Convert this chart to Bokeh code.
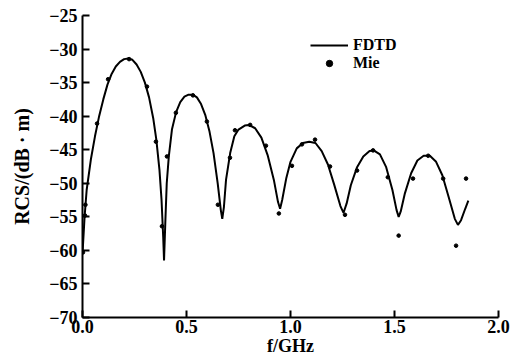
from bokeh.plotting import figure
from bokeh.models import FixedTicker, Legend, LegendItem, Range1d
from bokeh.embed import file_html
from bokeh.resources import INLINE

# FDTD curve (f in GHz, RCS in dB·m)
fdtd_f = [0.0, 0.01, 0.02, 0.04, 0.06, 0.08, 0.10, 0.12, 0.14, 0.16, 0.18, 0.20, 0.22, 0.24,
          0.26, 0.28, 0.30, 0.32, 0.34, 0.355, 0.37, 0.38, 0.388, 0.392,
          0.398, 0.405, 0.415, 0.43, 0.45, 0.47, 0.49, 0.51, 0.53, 0.55, 0.57, 0.59, 0.61,
          0.63, 0.65, 0.665, 0.672,
          0.68, 0.69, 0.71, 0.73, 0.75, 0.78, 0.80, 0.83, 0.86, 0.89, 0.92, 0.94, 0.95,
          0.96, 0.98, 1.00, 1.03, 1.06, 1.09, 1.12, 1.15, 1.18, 1.21, 1.24, 1.255,
          1.27, 1.29, 1.32, 1.35, 1.38, 1.40, 1.43, 1.46, 1.49, 1.51, 1.52,
          1.53, 1.55, 1.58, 1.61, 1.64, 1.67, 1.70, 1.73, 1.76, 1.79, 1.805, 1.82, 1.84, 1.855]
fdtd_rcs = [-60.5, -55.0, -51.0, -46.5, -43.0, -40.0, -37.5, -35.3, -33.7, -32.6, -31.9, -31.5, -31.4, -31.6,
            -32.3, -33.4, -35.0, -37.2, -40.3, -43.5, -48.0, -52.5, -58.0, -61.5,
            -56.0, -50.0, -46.0, -42.0, -39.4, -37.9, -37.1, -36.8, -36.8, -37.2, -38.2, -39.8, -42.2,
            -45.5, -50.0, -54.0, -55.3,
            -53.5, -49.5, -45.5, -43.0, -42.0, -41.4, -41.3, -41.8, -43.2, -45.8, -49.5, -52.8, -53.8,
            -52.5, -49.2, -46.8, -44.8, -44.0, -43.8, -44.0, -45.2, -47.2, -50.2, -53.4, -54.4,
            -53.0, -50.3, -47.6, -46.0, -45.2, -45.1, -45.7, -47.6, -51.0, -54.0, -55.0,
            -54.2, -51.5, -48.5, -46.6, -45.9, -45.9, -46.8, -48.8, -52.0, -55.3, -56.2, -55.5, -53.8, -52.6]

# Mie series points
mie_f = [0.002, 0.012, 0.014, 0.07, 0.123, 0.224, 0.31, 0.353, 0.382, 0.406, 0.449, 0.531,
         0.598, 0.651, 0.709, 0.733, 0.806, 0.882, 0.944, 1.007, 1.055, 1.118, 1.19, 1.262,
         1.32, 1.397, 1.468, 1.52, 1.589, 1.662, 1.734, 1.796, 1.844]
mie_rcs = [-60.3, -54.8, -53.2, -41.1, -34.5, -31.5, -35.6, -43.8, -56.4, -46.0, -39.5, -36.9,
           -40.8, -53.2, -46.2, -42.1, -41.3, -44.4, -54.5, -47.4, -44.2, -43.5, -47.5, -54.7,
           -48.1, -45.1, -49.1, -57.8, -49.3, -45.9, -49.3, -59.3, -49.3]

x_ticks = [0.0, 0.5, 1.0, 1.5, 2.0]
x_tick_labels = ["0.0", "0.5", "1.0", "1.5", "2.0"]
y_ticks = [-70, -65, -60, -55, -50, -45, -40, -35, -30, -25]
y_tick_labels = ["\u221270", "\u221265", "\u221260", "\u221255", "\u221250",
                 "\u221245", "\u221240", "\u221235", "\u221230", "\u221225"]

FONT = "Liberation Serif"

p = figure(width=512, height=361, output_backend="svg", toolbar_location=None,
           x_range=Range1d(0, 2.0), y_range=Range1d(-70, -25),
           min_border_left=82, min_border_right=14, min_border_top=15, min_border_bottom=44)
p.outline_line_color = None
p.grid.visible = False
p.background_fill_color = "white"

line_r = p.line(fdtd_f, fdtd_rcs, line_color="black", line_width=2)
dot_r = p.scatter(mie_f, mie_rcs, size=3.6, fill_color="black", line_color="black")

for ax in (p.xaxis[0], p.yaxis[0]):
    ax.axis_line_width = 2
    ax.axis_line_color = "black"
    ax.major_tick_line_width = 2
    ax.major_tick_line_color = "black"
    ax.major_tick_in = 7
    ax.major_tick_out = 0
    ax.minor_tick_line_color = None
    ax.major_label_text_font = FONT
    ax.major_label_text_font_style = "bold"
    ax.major_label_text_font_size = "18px"
    ax.major_label_text_color = "black"
    ax.axis_label_text_font = FONT
    ax.axis_label_text_font_style = "bold"
    ax.axis_label_text_color = "black"

p.xaxis[0].ticker = FixedTicker(ticks=x_ticks)
p.xaxis[0].major_label_overrides = dict(zip(x_ticks, x_tick_labels))
p.xaxis[0].major_label_standoff = 2
p.xaxis[0].axis_label = "f/GHz"
p.xaxis[0].axis_label_text_font_size = "18px"
p.xaxis[0].axis_label_standoff = 0

p.yaxis[0].ticker = FixedTicker(ticks=y_ticks)
p.yaxis[0].major_label_overrides = dict(zip(y_ticks, y_tick_labels))
p.yaxis[0].major_label_standoff = 5
p.yaxis[0].axis_label = "RCS/(dB · m)"
p.yaxis[0].axis_label_text_font_size = "20px"
p.yaxis[0].axis_label_standoff = 13

legend = Legend(items=[LegendItem(label="FDTD", renderers=[line_r]),
                       LegendItem(label="Mie", renderers=[dot_r])],
                location=(228, 245), orientation="vertical",
                glyph_width=38, glyph_height=16, label_height=16, spacing=0, padding=0, margin=0,
                label_standoff=5, border_line_color=None, background_fill_alpha=0,
                label_text_font=FONT, label_text_font_style="bold", label_text_font_size="16px",
                label_text_color="black")
p.add_layout(legend)

open("out.html", "w").write(file_html(p, INLINE))
